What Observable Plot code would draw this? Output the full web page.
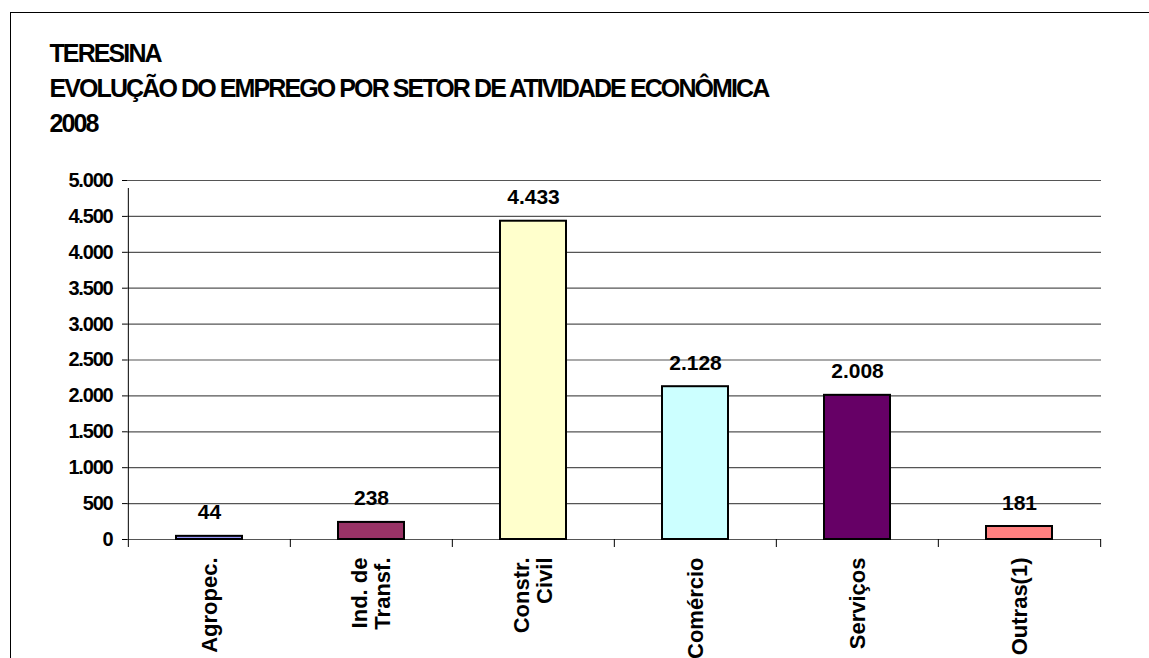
<!DOCTYPE html>
<html>
<head>
<meta charset="utf-8">
<script src="https://cdn.jsdelivr.net/npm/d3@7"></script>
<script src="https://cdn.jsdelivr.net/npm/@observablehq/plot@0.6"></script>
<style>
  html, body { margin: 0; padding: 0; background: #fff; overflow: hidden; }
  body { width: 1149px; height: 658px; position: relative; font-family: "Liberation Sans", Arial, sans-serif; }
  #frame { position: absolute; left: 10px; top: 12px; width: 1300px; height: 800px; border-top: 1.5px solid #000; border-left: 1.5px solid #000; box-sizing: border-box; }
  #title { position: relative; height: 160px; }
  #title div { position: absolute; left: 49.5px; font-weight: bold; font-size: 25px; line-height: 35px; letter-spacing: -1.9px; word-spacing: 0px; color: #000; white-space: nowrap; }
  #chart { position: relative; }
  g[aria-label="y-axis tick label"] text { letter-spacing: -1.2px; }
  g[aria-label="values"] text { letter-spacing: -1.6px; }
</style>
</head>
<body>
<div id="frame"></div>
<div id="title">
  <div style="top:35.5px">TERESINA</div>
  <div style="top:70.5px">EVOLUÇÃO DO EMPREGO POR SETOR DE ATIVIDADE ECONÔMICA</div>
  <div style="top:105.5px">2008</div>
</div>
<div id="chart"></div>
<script>
const categories = ["Agropec.", "Ind. de\nTransf.", "Constr.\nCivil", "Comércio", "Serviços", "Outras(1)"];
const values = [44, 238, 4433, 2128, 2008, 181];
const colors = ["#9999FF", "#993366", "#FFFFCC", "#CCFFFF", "#660066", "#FF8080"];
const yTicks = [0, 500, 1000, 1500, 2000, 2500, 3000, 3500, 4000, 4500, 5000];

const data = categories.map((c, i) => ({category: c, value: values[i], color: colors[i]}));
const fmt = d3.formatLocale({decimal: ",", thousands: ".", grouping: [3]}).format(",d");

const W = 1149, H = 498;
const mL = 127, mR = 48;
const step = (W - mL - mR) / categories.length;

const plot = Plot.plot({
  width: W,
  height: H,
  marginTop: 20,
  marginBottom: 119,
  marginLeft: mL,
  marginRight: mR,
  style: {fontFamily: '"Liberation Sans", Arial, sans-serif', color: "#000", background: "transparent", overflow: "visible"},
  x: {domain: categories, paddingInner: 0.59, paddingOuter: 0.295, axis: null},
  y: {domain: [0, 5000], axis: null},
  marks: [
    Plot.ruleY(yTicks, {stroke: "#555", strokeWidth: 1.2}),
    Plot.axisY({ticks: yTicks, tickFormat: fmt, tickSize: 5, tickPadding: 10, fontSize: 20, fontWeight: "bold", stroke: "#000", strokeWidth: 1, label: null}),
    // y axis line (extends below zero)
    Plot.ruleX([categories[0]], {y1: 0, y2: 5000, dx: -step / 2, insetTop: 0, insetBottom: -8, stroke: "#000"}),
    // x ticks at category boundaries
    Plot.ruleX(categories, {y1: 0, y2: 0, dx: -step / 2, insetBottom: -8, stroke: "#000"}),
    Plot.ruleX([categories[categories.length - 1]], {y1: 0, y2: 0, dx: step / 2, insetBottom: -8, stroke: "#000"}),
    Plot.barY(data, {x: "category", y: "value", fill: "color", stroke: "#000", strokeWidth: 2}),
    Plot.text(data, {x: "category", y: "value", text: d => fmt(d.value), dy: -17, lineAnchor: "bottom", fontSize: 21, fontWeight: "bold", fill: "#000", ariaLabel: "values"}),
    Plot.text(categories, {x: d => d, frameAnchor: "bottom", dy: 18, rotate: -90, textAnchor: "end", lineAnchor: "middle", lineHeight: 1.045, fontSize: 22, fontWeight: "bold", fill: "#000", ariaLabel: "xlabels"})
  ]
});
document.getElementById("chart").append(plot);

// center the lines of multi-line category labels on each other
plot.querySelectorAll('g[aria-label="xlabels"] text').forEach(t => {
  const spans = Array.from(t.querySelectorAll("tspan"));
  if (spans.length > 1) {
    const w = spans.map(s => s.getComputedTextLength());
    const L = Math.max(...w);
    spans.forEach((s, i) => s.setAttribute("x", -(L - w[i]) / 2));
  }
});
</script>
</body>
</html>
